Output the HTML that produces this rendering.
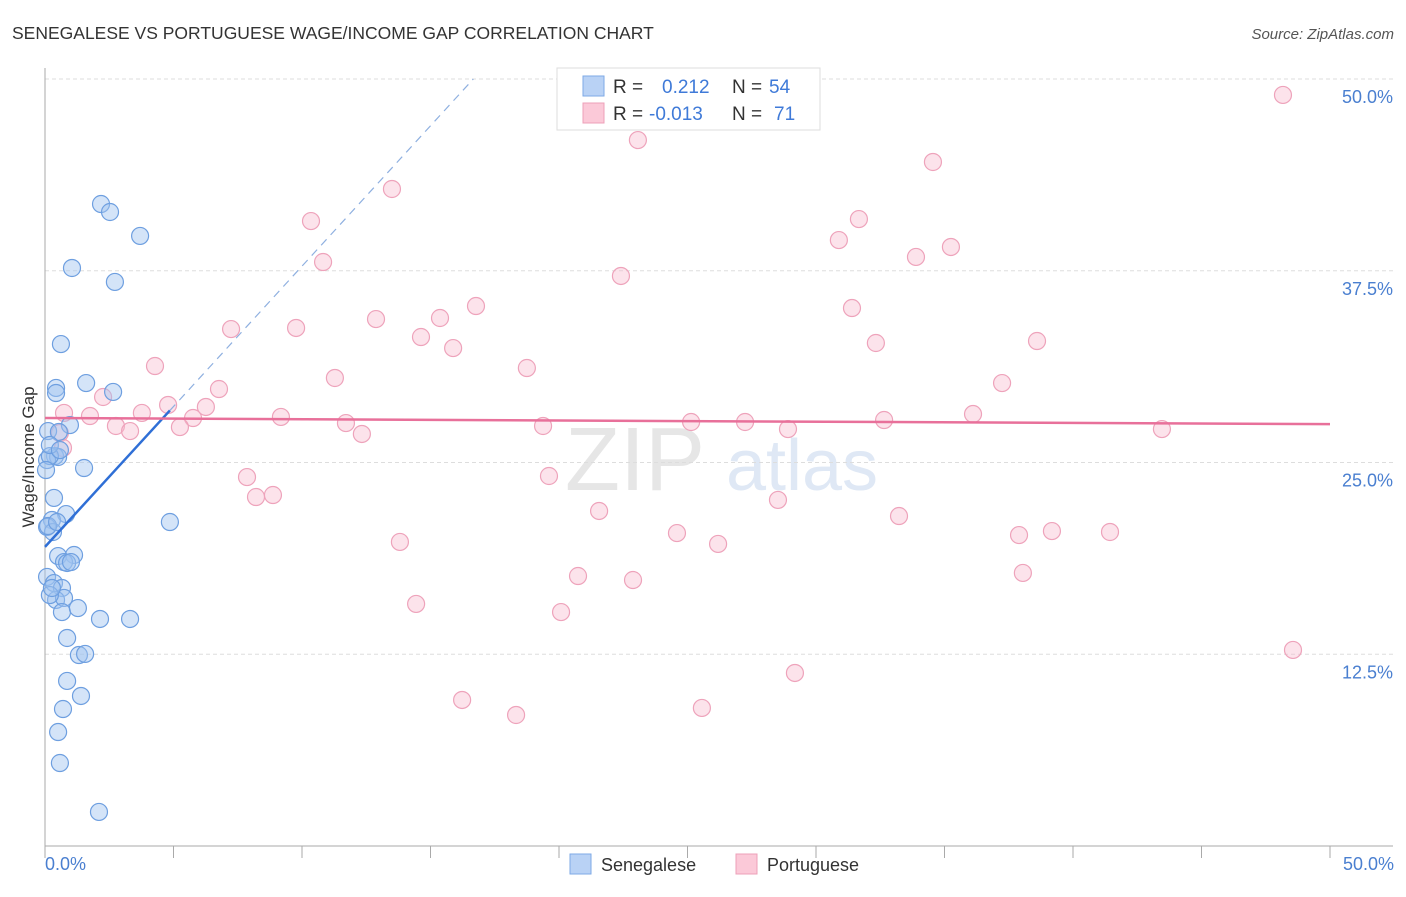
<!DOCTYPE html>
<html><head><meta charset="utf-8"><style>
body{margin:0;background:#fff;font-family:"Liberation Sans",sans-serif}
svg text{font-family:"Liberation Sans",sans-serif}
</style></head><body>
<svg id="chart" width="1406" height="892" xmlns="http://www.w3.org/2000/svg">
<text x="12" y="39" font-size="17.5" fill="#333">SENEGALESE VS PORTUGUESE WAGE/INCOME GAP CORRELATION CHART</text>
<text x="1394" y="39" font-size="15" fill="#555" font-style="italic" text-anchor="end">Source: ZipAtlas.com</text>
<g>
<text x="635" y="490" font-size="90" fill="#e6e6e6" font-family="Liberation Serif" text-anchor="middle">ZIP</text>
<text x="802" y="490" font-size="72" fill="#dfe8f5" text-anchor="middle">atlas</text>
</g>
<g id="grid"></g>
<g id="axes"></g>
<g id="pts"></g>
<g id="trends"></g>
<text transform="translate(34,457) rotate(-90)" font-size="17" fill="#333" text-anchor="middle">Wage/Income Gap</text>
<text x="45" y="870" font-size="18" fill="#4a7fd0">0.0%</text>
<text x="1394" y="870" font-size="18" fill="#4a7fd0" text-anchor="end">50.0%</text>
<g>
<rect x="557" y="68" width="263" height="62" fill="#fff" stroke="#ddd"/>
<rect x="583" y="76" width="21" height="20" fill="#b9d2f5" stroke="#7ea9e6"/>
<rect x="583" y="103" width="21" height="20" fill="#fbc9d8" stroke="#eea0b8"/>
<text x="613" y="93" font-size="19" fill="#333">R =</text>
<text x="662" y="93" font-size="19" fill="#3f7ad8">0.212</text>
<text x="732" y="93" font-size="19" fill="#333">N =</text>
<text x="769" y="93" font-size="19" fill="#3f7ad8">54</text>
<text x="613" y="120" font-size="19" fill="#333">R =</text>
<text x="649" y="120" font-size="19" fill="#3f7ad8">-0.013</text>
<text x="732" y="120" font-size="19" fill="#333">N =</text>
<text x="774" y="120" font-size="19" fill="#3f7ad8">71</text>
</g>
<g>
<rect x="570" y="854" width="21" height="20" fill="#b9d2f5" stroke="#7ea9e6"/>
<text x="601" y="871" font-size="18" fill="#333">Senegalese</text>
<rect x="736" y="854" width="21" height="20" fill="#fbc9d8" stroke="#eea0b8"/>
<text x="767" y="871" font-size="18" fill="#333">Portuguese</text>
</g>
</svg>
<script>
const yTicks=[12.5,25,37.5,50];
const yTickLabels=["12.5%","25.0%","37.5%","50.0%"];
const blueX=[2.18,2.53,3.70,1.05,2.72,0.62,0.43,0.43,1.60,2.65,0.12,0.97,0.54,0.39,0.51,1.52,0.08,0.35,0.82,0.27,0.08,0.31,4.86,1.13,0.51,0.74,0.86,1.01,0.08,0.35,0.66,0.43,0.74,0.66,1.28,2.14,3.31,0.86,1.32,1.56,0.86,1.40,0.70,0.51,0.58,2.10,0.19,0.12,0.19,0.04,0.47,0.19,0.27,0.58];
const blueY=[41.85,41.33,39.77,37.68,36.77,32.72,29.86,29.53,30.18,29.60,27.05,27.44,26.99,25.42,25.36,24.64,25.16,22.69,21.64,21.25,20.80,20.47,21.12,18.97,18.90,18.51,18.45,18.51,17.54,17.14,16.82,16.04,16.17,15.25,15.51,14.80,14.80,13.56,12.45,12.52,10.76,9.78,8.93,7.43,5.41,2.22,25.42,20.86,16.36,24.51,21.12,26.14,16.82,25.81];
const pinkX=[48.17,23.07,34.55,13.50,10.35,31.67,30.89,35.25,33.89,10.82,22.41,16.77,31.40,7.24,9.77,12.88,15.37,14.63,15.88,32.33,38.60,4.28,11.28,18.75,37.24,6.77,2.26,0.74,1.75,3.77,4.79,6.26,5.76,9.18,11.71,5.25,2.76,3.31,12.33,19.38,25.14,27.24,28.91,32.65,36.11,43.46,0.58,0.70,7.86,19.61,8.21,8.87,28.52,21.56,33.23,13.81,24.59,26.19,37.90,39.18,41.44,20.74,22.88,38.05,14.44,20.08,48.56,29.18,16.23,18.33,25.56];
const pinkY=[48.96,46.02,44.59,42.83,40.74,40.87,39.50,39.05,38.40,38.07,37.16,35.20,35.07,33.70,33.77,34.35,34.42,33.18,32.46,32.79,32.92,31.29,30.51,31.16,30.18,29.79,29.27,28.23,28.03,28.23,28.75,28.62,27.90,27.97,27.57,27.31,27.38,27.05,26.86,27.38,27.64,27.64,27.18,27.77,28.16,27.18,26.92,25.95,24.05,24.12,22.75,22.88,22.56,21.84,21.51,19.82,20.40,19.69,20.27,20.53,20.47,17.60,17.34,17.80,15.78,15.25,12.78,11.28,9.52,8.54,9.00];
const blueTrend=[19.5,1.83];   // intercept, slope
const pinkTrend=[27.9,-0.008];
const NS="http://www.w3.org/2000/svg";
const X0=45,X1=1330,Y0=846,Y1=79;
const sx=v=>X0+(X1-X0)*v/50, sy=v=>Y0-(Y0-Y1)*v/50;
function mk(tag,attrs,parent){const e=document.createElementNS(NS,tag);for(const k in attrs)e.setAttribute(k,attrs[k]);parent.appendChild(e);return e;}
const grid=document.getElementById('grid'),axes=document.getElementById('axes'),pts=document.getElementById('pts'),tr=document.getElementById('trends');
yTicks.forEach((t,i)=>{
 const l=mk('line',{x1:X0,x2:1393,y1:sy(t),y2:sy(t),stroke:'#ddd','stroke-dasharray':'4,3'},grid);
 
 
 const tx=mk('text',{x:1393,y:sy(t)+24,'font-size':18,fill:'#4a7fd0','text-anchor':'end'},grid);
 tx.textContent=yTickLabels[i];
 
 
});
const ya=mk('line',{x1:X0,x2:X0,y1:68,y2:Y0,stroke:'#aaa'},axes);


const xa=mk('line',{x1:X0,x2:1393,y1:Y0,y2:Y0,stroke:'#aaa'},axes);


for(let i=0;i<=10;i++){const t=mk('line',{x1:sx(i*5),x2:sx(i*5),y1:Y0,y2:Y0+12,stroke:'#aaa'},axes);
 
 }
pinkX.forEach((v,i)=>{const c=mk('circle',{cx:sx(v),cy:sy(pinkY[i]),r:8.5,fill:'rgba(248,185,205,0.4)',stroke:'#eea3bb','stroke-width':1.2},pts);
 
 });
blueX.forEach((v,i)=>{const c=mk('circle',{cx:sx(v),cy:sy(blueY[i]),r:8.5,fill:'rgba(160,195,240,0.45)',stroke:'#6e9fe0','stroke-width':1.2},pts);
 
 });
const bEnd=4.86, bTop=(50-blueTrend[0])/blueTrend[1];
const bl=mk('line',{x1:sx(0),y1:sy(blueTrend[0]),x2:sx(bEnd),y2:sy(blueTrend[0]+blueTrend[1]*bEnd),stroke:'#2f6fd6','stroke-width':2.5},tr);


const bd=mk('line',{x1:sx(bEnd),y1:sy(blueTrend[0]+blueTrend[1]*bEnd),x2:sx(bTop),y2:sy(50),stroke:'#8fb0e0','stroke-width':1.2,'stroke-dasharray':'8,6'},tr);


const pl=mk('line',{x1:sx(0),y1:sy(pinkTrend[0]),x2:sx(50),y2:sy(pinkTrend[0]+pinkTrend[1]*50),stroke:'#e8709a','stroke-width':2.5},tr);


</script>
</body></html>
